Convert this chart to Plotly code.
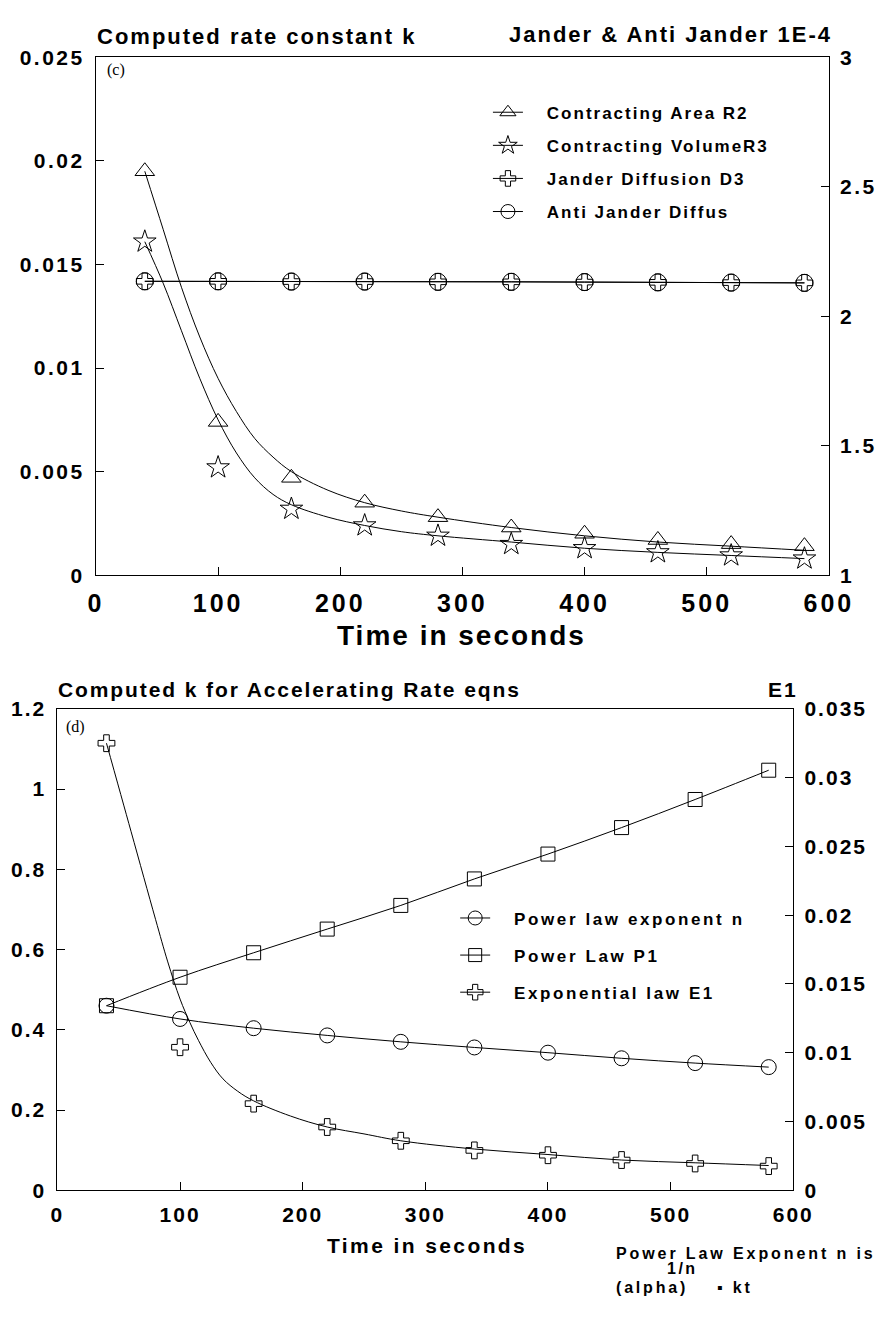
import plotly.graph_objects as go

W, H = 895, 1323

# ---------------- Panel (c) data ----------------
time_s = [40, 100, 160, 220, 280, 340, 400, 460, 520, 580]
area_r2 = [0.0195, 0.0074, 0.0047, 0.0035, 0.0028, 0.0023, 0.0020, 0.0017, 0.0015, 0.0014]
volume_r3 = [0.0161, 0.0052, 0.0032, 0.0024, 0.0019, 0.0015, 0.0013, 0.0011, 0.00095, 0.0008]
jander_d3 = [2.135, 2.135, 2.134, 2.134, 2.133, 2.133, 2.132, 2.131, 2.130, 2.129]
anti_jander = [2.135, 2.135, 2.134, 2.134, 2.133, 2.133, 2.132, 2.131, 2.130, 2.129]

fit_time_c = [40, 55, 70, 85, 100, 115, 130, 145, 160, 190, 220, 250, 280, 340, 400, 460, 520, 580]
area_r2_fit = [0.0195, 0.0167, 0.0139, 0.0115, 0.0095, 0.0079, 0.0066, 0.0057, 0.0050, 0.0041,
               0.0035, 0.0031, 0.0028, 0.0023, 0.0019, 0.0016, 0.0014, 0.0012]
volume_r3_fit = [0.0161, 0.0141, 0.0118, 0.0095, 0.0075, 0.0059, 0.0047, 0.0039, 0.0034, 0.0028,
                 0.0024, 0.0021, 0.0019, 0.0016, 0.0013, 0.0011, 0.00095, 0.0008]

# ---------------- Panel (d) data ----------------
power_n = [0.460, 0.427, 0.404, 0.386, 0.370, 0.356, 0.343, 0.329, 0.317, 0.307]
power_p1 = [0.460, 0.531, 0.592, 0.651, 0.710, 0.776, 0.838, 0.904, 0.974, 1.047]
exp_e1 = [0.0325, 0.0104, 0.0063, 0.0046, 0.0036, 0.0029, 0.00255, 0.0022, 0.00195, 0.00176]

fit_time_d = [40, 60, 80, 90, 100, 108, 115, 125, 135, 147, 160, 190, 220, 250, 280, 340, 400, 460, 520, 580]
exp_e1_fit = [0.0325, 0.0261, 0.0197, 0.0166, 0.0139, 0.0122, 0.0109, 0.0093, 0.0081, 0.0072, 0.0065,
              0.0054, 0.0046, 0.0041, 0.0036, 0.0030, 0.0026, 0.0022, 0.0020, 0.0018]

# ---------------- Tick labels ----------------
x_ticks = [0, 100, 200, 300, 400, 500, 600]
c_left_ticks = [0, 0.005, 0.01, 0.015, 0.02, 0.025]
c_left_text = ["0", "0.005", "0.01", "0.015", "0.02", "0.025"]
c_right_ticks = [1, 1.5, 2, 2.5, 3]
c_right_text = ["1", "1.5", "2", "2.5", "3"]
d_left_ticks = [0, 0.2, 0.4, 0.6, 0.8, 1.0, 1.2]
d_left_text = ["0", "0.2", "0.4", "0.6", "0.8", "1", "1.2"]
d_right_ticks = [0, 0.005, 0.01, 0.015, 0.02, 0.025, 0.03, 0.035]
d_right_text = ["0", "0.005", "0.01", "0.015", "0.02", "0.025", "0.03", "0.035"]

SANS = "Liberation Sans, Arial, Helvetica, sans-serif"
SERIF = "Liberation Serif, Times New Roman, serif"
NB = "\u00a0"
BOLD = "bold"


def ls(text, sp):
    return f'<span style="letter-spacing:{sp}px">{text}</span>'


def px(v):
    return v / W


def py(v):
    return 1 - v / H


def f(size, family=SANS, weight=BOLD):
    return dict(size=size, family=family, weight=weight, color="black")


BLK = "black"
fig = go.Figure()

# ----- Panel (c) traces -----
fig.add_trace(go.Scatter(x=fit_time_c, y=area_r2_fit, mode="lines", line=dict(color=BLK, width=1, shape="spline"),
                         xaxis="x", yaxis="y", showlegend=False, hoverinfo="skip"))
fig.add_trace(go.Scatter(x=fit_time_c, y=volume_r3_fit, mode="lines", line=dict(color=BLK, width=1, shape="spline"),
                         xaxis="x", yaxis="y", showlegend=False, hoverinfo="skip"))
fig.add_trace(go.Scatter(x=time_s, y=area_r2, mode="markers",
                         marker=dict(symbol="triangle-up-open", size=17, color=BLK, line=dict(width=1)),
                         xaxis="x", yaxis="y", showlegend=False))
fig.add_trace(go.Scatter(x=time_s, y=volume_r3, mode="markers",
                         marker=dict(symbol="star-open", size=17, color=BLK, line=dict(width=1)),
                         xaxis="x", yaxis="y", showlegend=False))
fig.add_trace(go.Scatter(x=time_s, y=jander_d3, mode="lines+markers", line=dict(color=BLK, width=1),
                         marker=dict(symbol="cross-open", size=14, color=BLK, line=dict(width=1)),
                         xaxis="x", yaxis="y2", showlegend=False))
fig.add_trace(go.Scatter(x=time_s, y=anti_jander, mode="lines+markers", line=dict(color=BLK, width=1),
                         marker=dict(symbol="circle-open", size=17, color=BLK, line=dict(width=1)),
                         xaxis="x", yaxis="y2", showlegend=False))

legend_c = [("Contracting Area R2", "triangle-up-open", 14),
            ("Contracting VolumeR3", "star-open", 14),
            ("Jander Diffusion D3", "cross-open", 13),
            ("Anti Jander Diffus", "circle-open", 14)]
for i, (nm, sym, sz) in enumerate(legend_c):
    fig.add_trace(go.Scatter(x=[None], y=[None], mode="lines+markers", name=NB * 4 + ls(nm, 2.0),
                             line=dict(color=BLK, width=1),
                             marker=dict(symbol=sym, size=sz, color=BLK, line=dict(width=1)),
                             xaxis="x", yaxis="y", legend="legend", legendgroup=f"c{i}"))

# ----- Panel (d) traces -----
fig.add_trace(go.Scatter(x=time_s, y=power_n, mode="lines+markers", line=dict(color=BLK, width=1, shape="spline"),
                         marker=dict(symbol="circle-open", size=15, color=BLK, line=dict(width=1)),
                         xaxis="x2", yaxis="y3", showlegend=False))
fig.add_trace(go.Scatter(x=time_s, y=power_p1, mode="lines+markers", line=dict(color=BLK, width=1, shape="spline"),
                         marker=dict(symbol="square-open", size=14, color=BLK, line=dict(width=1)),
                         xaxis="x2", yaxis="y3", showlegend=False))
fig.add_trace(go.Scatter(x=fit_time_d, y=exp_e1_fit, mode="lines", line=dict(color=BLK, width=1, shape="spline"),
                         xaxis="x2", yaxis="y4", showlegend=False, hoverinfo="skip"))
fig.add_trace(go.Scatter(x=time_s, y=exp_e1, mode="markers",
                         marker=dict(symbol="cross-open", size=14, color=BLK, line=dict(width=1)),
                         xaxis="x2", yaxis="y4", showlegend=False))

legend_d = [("Power law exponent n", "circle-open", 14),
            ("Power Law P1", "square-open", 13),
            ("Exponential law E1", "cross-open", 13)]
for i, (nm, sym, sz) in enumerate(legend_d):
    fig.add_trace(go.Scatter(x=[None], y=[None], mode="lines+markers", name=NB * 4 + ls(nm, 2.6),
                             line=dict(color=BLK, width=1),
                             marker=dict(symbol=sym, size=sz, color=BLK, line=dict(width=1)),
                             xaxis="x2", yaxis="y3", legend="legend2", legendgroup=f"d{i}"))

common_axis = dict(showline=True, linecolor=BLK, linewidth=1, ticks="inside", ticklen=8, tickcolor=BLK,
                   tickwidth=1, showgrid=False, zeroline=False, fixedrange=True)

fig.update_layout(
    width=W, height=H, margin=dict(l=0, r=0, t=0, b=0),
    paper_bgcolor="white", plot_bgcolor="white",
    font=dict(family=SANS, color=BLK, weight=BOLD),
    xaxis=dict(domain=[px(83), px(844)], range=[0, 600], anchor="y", mirror=True,
               tickvals=x_ticks, ticktext=[ls(str(v), 3) for v in x_ticks],
               tickfont=f(25), ticklabelstandoff=6, **common_axis),
    yaxis=dict(domain=[py(565), py(38)], range=[0, 0.025], anchor="x",
               tickvals=c_left_ticks, ticktext=[ls(t, 2.5) for t in c_left_text],
               tickfont=f(21), ticklabelstandoff=6, **common_axis),
    yaxis2=dict(range=[1, 3], overlaying="y", side="right", anchor="x",
                tickvals=c_right_ticks, ticktext=[ls(t, 2.5) for t in c_right_text],
                tickfont=f(21), ticklabelstandoff=6, **common_axis),
    xaxis2=dict(domain=[px(43), px(807)], range=[0, 600], anchor="y3", mirror=True,
                tickvals=x_ticks, ticktext=[ls(str(v), 2) for v in x_ticks],
                tickfont=f(21), ticklabelstandoff=6, **common_axis),
    yaxis3=dict(domain=[py(1191), py(701)], range=[0, 1.2], anchor="x2",
                tickvals=d_left_ticks, ticktext=[ls(t, 2) for t in d_left_text],
                tickfont=f(21), ticklabelstandoff=6, **common_axis),
    yaxis4=dict(range=[0, 0.035], overlaying="y3", side="right", anchor="x2",
                tickvals=d_right_ticks, ticktext=[ls(t, 2) for t in d_right_text],
                tickfont=f(21), ticklabelstandoff=6, **common_axis),
    legend=dict(x=px(490), y=py(76), xref="paper", yref="paper", xanchor="left", yanchor="top",
                bgcolor="rgba(0,0,0,0)", borderwidth=0, font=f(17),
                traceorder="grouped", tracegroupgap=8, itemwidth=30, itemclick=False, itemdoubleclick=False),
    legend2=dict(x=px(456), y=py(896), xref="paper", yref="paper", xanchor="left", yanchor="top",
                 bgcolor="rgba(0,0,0,0)", borderwidth=0, font=f(17),
                 traceorder="grouped", tracegroupgap=12, itemwidth=30, itemclick=False, itemdoubleclick=False),
)

annotations = [
    dict(text=ls("Computed rate constant k", 2.0), x=px(82), y=py(17), xanchor="left", yanchor="middle",
         font=f(22)),
    dict(text=ls("Jander & Anti Jander 1E-4", 2.0), x=px(849), y=py(15), xanchor="right", yanchor="middle",
         font=f(22)),
    dict(text="(c)", x=px(92), y=py(51), xanchor="left", yanchor="middle", font=f(16, SERIF, "normal")),
    dict(text=ls("Time in seconds", 2.0), x=px(463), y=py(626), xanchor="center", yanchor="middle",
         font=f(28)),
    dict(text=ls("Computed k for Accelerating Rate eqns", 1.9), x=px(42), y=py(681), xanchor="left",
         yanchor="middle", font=f(21)),
    dict(text=ls("E1", 2.0), x=px(814), y=py(681), xanchor="right", yanchor="middle", font=f(21)),
    dict(text="(d)", x=px(50), y=py(720), xanchor="left", yanchor="middle", font=f(16, SERIF, "normal")),
    dict(text=ls("Time in seconds", 2.4), x=px(427), y=py(1247), xanchor="center", yanchor="middle",
         font=f(21)),
    dict(text=ls("Power Law Exponent n is", 2.9), x=px(621), y=py(1255), xanchor="left", yanchor="middle",
         font=f(16)),
    dict(text=ls("1/n", 2.5), x=px(674), y=py(1271), xanchor="left", yanchor="middle", font=f(16)),
    dict(text=ls("(alpha)", 2.8), x=px(621), y=py(1290), xanchor="left", yanchor="middle", font=f(16)),
    dict(text=ls("\u25aa kt", 2.8), x=px(726), y=py(1290), xanchor="left", yanchor="middle", font=f(16)),
]
for a in annotations:
    a.update(xref="paper", yref="paper", showarrow=False)
fig.update_layout(annotations=annotations)

fig.write_html("out.html")
